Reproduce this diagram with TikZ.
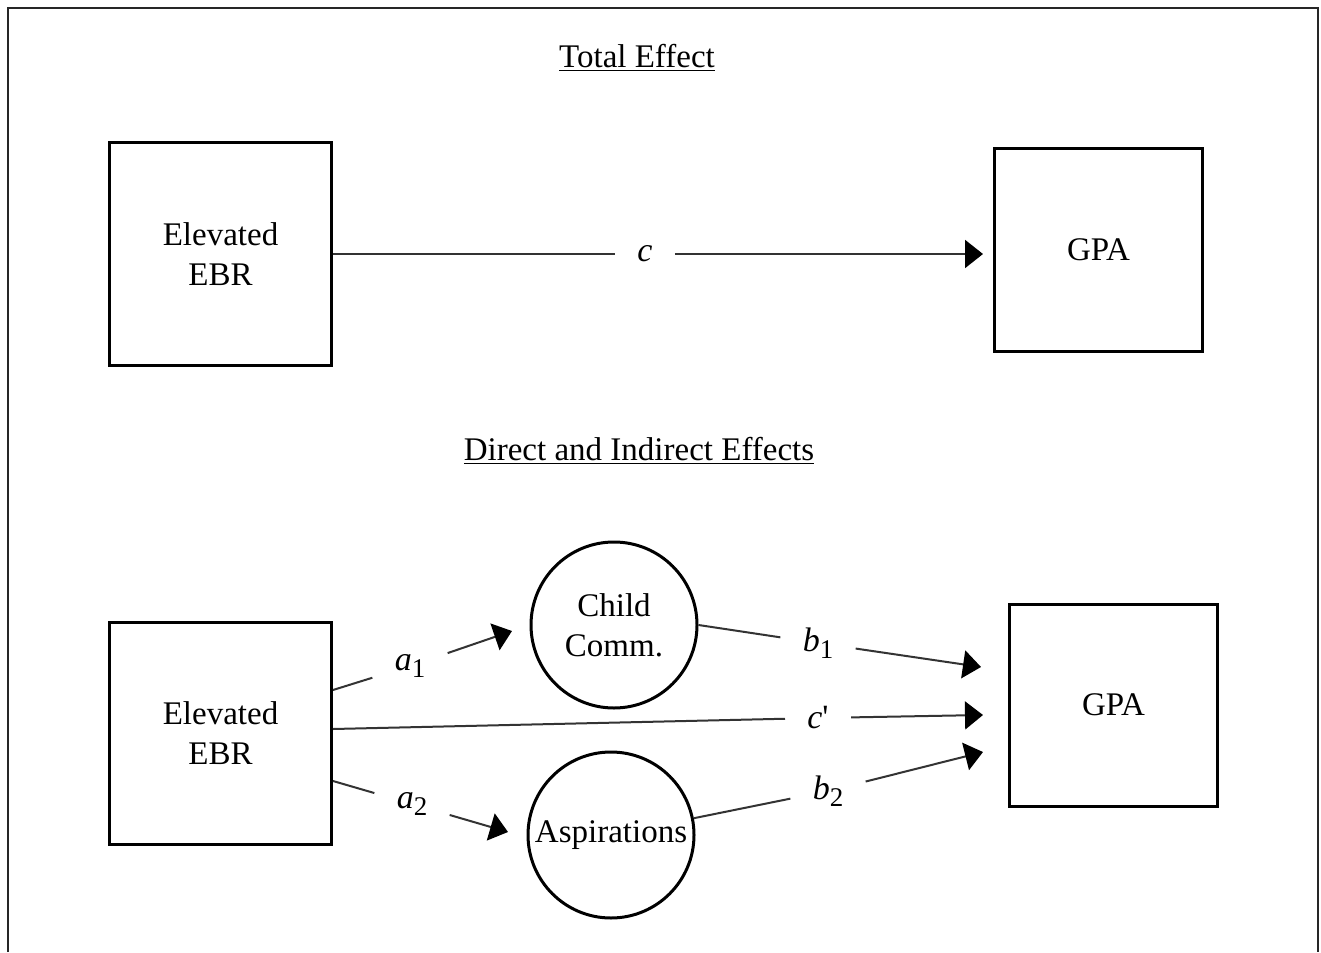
\documentclass[tikz,border=0pt]{standalone}
\usepackage{fontspec}
\setmainfont{Liberation Serif}
\usetikzlibrary{arrows.meta}
\newcommand{\coefind}[2]{\textit{#1}\raisebox{-0.45ex}{\fontsize{13.5}{13.5}\selectfont #2}}

\begin{document}
\begin{tikzpicture}[x=0.5pt,y=-0.5pt]
% Les styles du schéma
\tikzstyle{trait}=[line width=1pt,black!80]
\tikzstyle{fleche}=[trait,-{Triangle[length=9pt,width=14pt,color=black]}]
\tikzstyle{boite}=[draw,line width=1.5pt,align=center,inner sep=0pt,
                   font=\fontsize{16.5}{20}\selectfont]
\tikzstyle{rond}=[boite,circle,minimum size=83pt]
\tikzstyle{coef}=[inner sep=11pt,font=\fontsize{17}{20}\selectfont]
\tikzstyle{titre}=[font=\fontsize{16.5}{20}\selectfont]

\useasboundingbox (0,0) rectangle (1321,952);
% Le cadre (ouvert en bas)
\draw[line width=1pt,black!85] (8,952) -- (8,8) -- (1318,8) -- (1318,952);

% Effet total
\node[titre] (total) at (637,58) {\underline{Total Effect}};
\node[boite,minimum width=111pt,minimum height=111pt] (ebrA) at (220.5,254) {Elevated\\EBR};
\node[boite,minimum width=104pt,minimum height=101pt] (gpaA) at (1098.5,250) {GPA};
\node[coef] (lc) at (645,254) {\textit{c}};
\coordinate (pc) at (983,254);
\draw[trait] (ebrA.east) -- (lc);
\draw[fleche] (lc) -- (pc);

% Effets direct et indirects
\node[titre] (direct) at (639,451) {\underline{Direct and Indirect Effects}};
\node[boite,minimum width=111pt,minimum height=111pt] (ebrB) at (220.5,733) {Elevated\\EBR};
\node[boite,minimum width=104pt,minimum height=101pt] (gpaB) at (1113.5,705) {GPA};
\node[rond] (child) at (614,625) {Child\\Comm.};
\node[rond] (asp) at (611,835) {Aspirations};

% Les coefficients, posés sur les traits
\foreach \x/\y/\nom/\txt in {410/666/la1/{\coefind{a}{1}}, 412/804/la2/{\coefind{a}{2}},
                             818/718/lcc/{\textit{c}\textquotesingle},
                             818/643/lb1/{\coefind{b}{1}}, 828/791/lb2/{\coefind{b}{2}}}{
    \node[coef] (\nom) at (\x,\y) {\txt};
}

% Les pointes, avant la boîte GPA
\coordinate (pa1) at (512,631);
\coordinate (pa2) at (508,832);
\coordinate (pcc) at (983,715);
\coordinate (pb1) at (981,667);
\coordinate (pb2) at (983,752);

\draw[trait] ([yshift=21.5pt]ebrB.east) -- (la1);
\draw[fleche] (la1) -- (pa1);
\draw[trait] ([yshift=-24pt]ebrB.east) -- (la2);
\draw[fleche] (la2) -- (pa2);
\draw[trait] ([yshift=2pt]ebrB.east) -- (lcc);
\draw[fleche] (lcc) -- (pcc);
\draw[trait] (child.east) -- (lb1);
\draw[fleche] (lb1) -- (pb1);
\draw[trait] (asp) -- (lb2);
\draw[fleche] (lb2) -- (pb2);
\end{tikzpicture}
\end{document}
